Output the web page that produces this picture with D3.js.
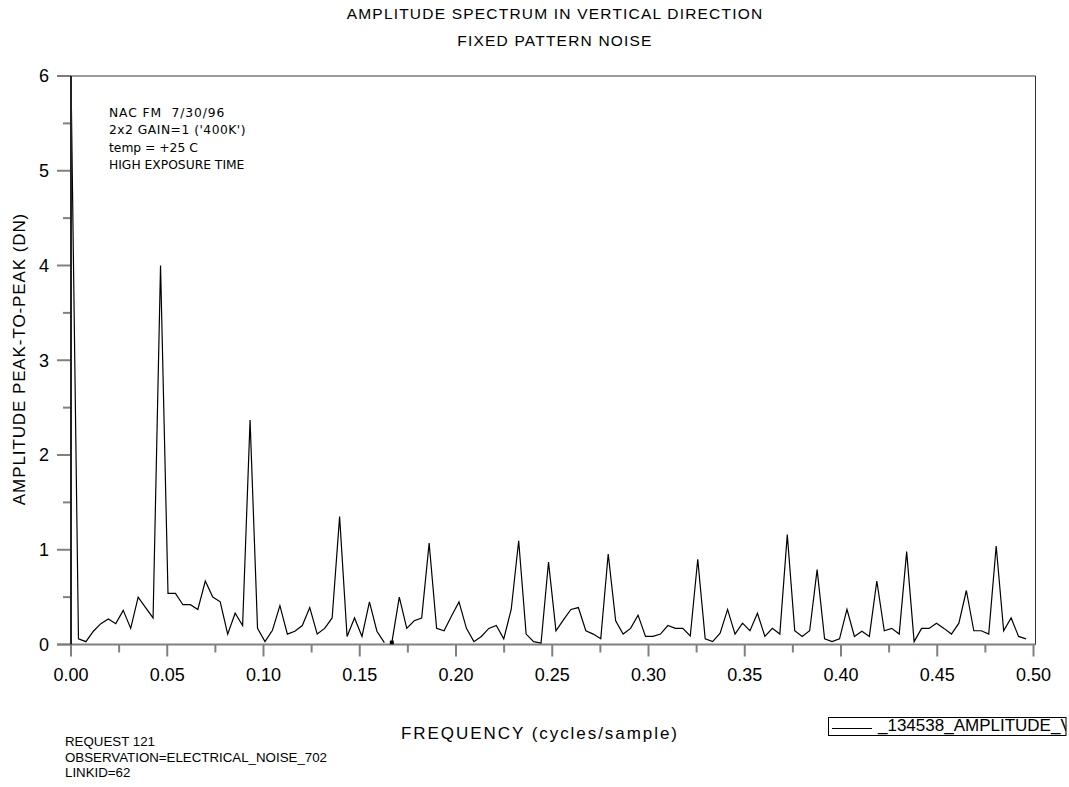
<!DOCTYPE html>
<html lang="en">
<head>
<meta charset="UTF-8">
<title>Amplitude Spectrum in Vertical Direction</title>
<script src="https://d3js.org/d3.v7.min.js"></script>
<style>
  body { margin: 0; background: #fff; }
  svg { display: block; font-family: "Liberation Sans", Arial, Helvetica, sans-serif; }
  .axis-tick { stroke: #808080; stroke-width: 2; }
  .tick-label { font-size: 18px; fill: #000; }
  .note { font-family: "DejaVu Sans", Verdana, sans-serif; font-size: 12.3px; fill: #000; white-space: pre; }
  .footer { font-size: 13.3px; fill: #000; }
  .title { font-size: 15.5px; letter-spacing: 1.2px; fill: #000; }
  .axis-title { font-size: 17px; fill: #000; }
</style>
</head>
<body>
<div id="chart"></div>
<script>
// amplitude per frequency bin (bin 0 = DC)
const amplitude = [
  6.00, 0.06, 0.03, 0.14, 0.22, 0.27, 0.22, 0.36, 0.17, 0.50,
  0.39, 0.28, 4.00, 0.54, 0.54, 0.42, 0.42, 0.37, 0.67, 0.50,
  0.45, 0.11, 0.33, 0.20, 2.37, 0.17, 0.03, 0.15, 0.41, 0.11,
  0.14, 0.20, 0.39, 0.11, 0.17, 0.28, 1.35, 0.085, 0.28, 0.085,
  0.45, 0.14, 0.02, 0.02, 0.50, 0.17, 0.25, 0.28, 1.07, 0.17,
  0.145, 0.30, 0.45, 0.17, 0.03, 0.085, 0.17, 0.20, 0.06, 0.37,
  1.095, 0.11, 0.03, 0.015, 0.87, 0.145, 0.26, 0.37, 0.39, 0.145,
  0.11, 0.06, 0.955, 0.25, 0.11, 0.17, 0.31, 0.085, 0.085, 0.11,
  0.20, 0.17, 0.17, 0.09, 0.90, 0.06, 0.03, 0.12, 0.37, 0.11,
  0.225, 0.145, 0.33, 0.085, 0.17, 0.11, 1.16, 0.145, 0.085, 0.145,
  0.79, 0.06, 0.03, 0.06, 0.37, 0.085, 0.14, 0.085, 0.67, 0.145,
  0.17, 0.11, 0.98, 0.03, 0.17, 0.17, 0.225, 0.17, 0.11, 0.225,
  0.57, 0.145, 0.145, 0.11, 1.04, 0.145, 0.28, 0.085, 0.06
];
const freqStep = 1 / 258;     // spacing between bins (cycles/sample)
const penLiftAt = 43;         // the plotted line is broken just before this bin

const xMajorTicks = [0, 0.05, 0.10, 0.15, 0.20, 0.25, 0.30, 0.35, 0.40, 0.45, 0.50];
const xMinorTicks = [0.025, 0.075, 0.125, 0.175, 0.225, 0.275, 0.325, 0.375, 0.425, 0.475];
const yMajorTicks = [0, 1, 2, 3, 4, 5, 6];
const yMinorTicks = [0.5, 1.5, 2.5, 3.5, 4.5, 5.5];

const titleLines = ["AMPLITUDE SPECTRUM IN VERTICAL DIRECTION", "FIXED PATTERN NOISE"];
const notes = ["NAC FM  7/30/96", "2x2 GAIN=1 ('400K')", "temp = +25 C", "HIGH EXPOSURE TIME"];
const footer = ["REQUEST 121", "OBSERVATION=ELECTRICAL_NOISE_702", "LINKID=62"];
const legendLabel = "_134538_AMPLITUDE_V";

const width = 1069, height = 787;
const plotLeft = 71, plotRight = 1033.5, plotTop = 76, plotBottom = 644.5, frameRight = 1035.5;

const svg = d3.select("#chart").append("svg")
    .attr("width", width)
    .attr("height", height);

svg.append("rect").attr("width", width).attr("height", height).attr("fill", "#fff");

const x = d3.scaleLinear().domain([0, 0.5]).range([plotLeft, plotRight]);
const y = d3.scaleLinear().domain([0, 6]).range([plotBottom, plotTop]);

// titles
svg.selectAll(".title").data(titleLines).enter().append("text")
    .attr("class", "title")
    .attr("x", 555)
    .attr("y", (d, i) => 19 + i * 27)
    .attr("text-anchor", "middle")
    .text(d => d);

// ticks
svg.append("g").selectAll("line").data(yMajorTicks).enter().append("line")
    .attr("class", "axis-tick")
    .attr("x1", plotLeft - 14).attr("x2", plotLeft)
    .attr("y1", d => y(d)).attr("y2", d => y(d));
svg.append("g").selectAll("line").data(yMinorTicks).enter().append("line")
    .attr("class", "axis-tick")
    .attr("x1", plotLeft - 8).attr("x2", plotLeft)
    .attr("y1", d => y(d)).attr("y2", d => y(d));
svg.append("g").selectAll("line").data(xMajorTicks).enter().append("line")
    .attr("class", "axis-tick")
    .attr("x1", d => x(d)).attr("x2", d => x(d))
    .attr("y1", plotBottom).attr("y2", plotBottom + 12);
svg.append("g").selectAll("line").data(xMinorTicks).enter().append("line")
    .attr("class", "axis-tick")
    .attr("x1", d => x(d)).attr("x2", d => x(d))
    .attr("y1", plotBottom).attr("y2", plotBottom + 8);

// tick labels
svg.append("g").selectAll("text").data(yMajorTicks).enter().append("text")
    .attr("class", "tick-label")
    .attr("x", 49)
    .attr("y", d => y(d))
    .attr("dy", "0.36em")
    .attr("text-anchor", "end")
    .text(d => d);
svg.append("g").selectAll("text").data(xMajorTicks).enter().append("text")
    .attr("class", "tick-label")
    .attr("x", d => x(d))
    .attr("y", 681)
    .attr("text-anchor", "middle")
    .text(d => d3.format(".2f")(d));

// frame
svg.append("line").attr("x1", plotLeft - 14).attr("x2", frameRight).attr("y1", plotTop).attr("y2", plotTop)
    .attr("stroke", "#7a7a7a").attr("stroke-width", 1.5);
svg.append("line").attr("x1", plotLeft - 14).attr("x2", frameRight).attr("y1", plotBottom).attr("y2", plotBottom)
    .attr("stroke", "#808080").attr("stroke-width", 2);
svg.append("line").attr("x1", frameRight).attr("x2", frameRight).attr("y1", plotTop).attr("y2", plotBottom)
    .attr("stroke", "#333").attr("stroke-width", 1);

// data
svg.append("clipPath").attr("id", "plot-clip")
  .append("rect").attr("x", plotLeft).attr("y", plotTop - 1)
  .attr("width", frameRight - plotLeft).attr("height", plotBottom - plotTop + 1);

const line = d3.line()
    .x(d => x(d.i * freqStep))
    .y(d => y(d.v));
const points = amplitude.map((v, i) => ({ i, v }));

const plot = svg.append("g").attr("clip-path", "url(#plot-clip)");
[points.slice(0, penLiftAt), points.slice(penLiftAt)].forEach(seg => {
    plot.append("path")
        .datum(seg)
        .attr("d", line)
        .attr("fill", "none")
        .attr("stroke", "#000")
        .attr("stroke-width", 1.2);
});
plot.append("rect")
    .attr("x", x(penLiftAt * freqStep) - 2)
    .attr("y", y(amplitude[penLiftAt]) - 2)
    .attr("width", 4).attr("height", 4)
    .attr("fill", "#000");

// left axis drawn over the data
svg.append("line").attr("x1", plotLeft).attr("x2", plotLeft).attr("y1", plotTop).attr("y2", plotBottom)
    .attr("stroke", "#222").attr("stroke-width", 2);

// axis titles
svg.append("text")
    .attr("class", "axis-title")
    .attr("x", 540)
    .attr("y", 739)
    .attr("text-anchor", "middle")
    .style("letter-spacing", "1.95px")
    .text("FREQUENCY (cycles/sample)");
svg.append("text")
    .attr("class", "axis-title")
    .attr("transform", "translate(25,359) rotate(-90)")
    .attr("text-anchor", "middle")
    .style("letter-spacing", "0.9px")
    .text("AMPLITUDE PEAK-TO-PEAK (DN)");

// notes
svg.append("g").selectAll("text").data(notes).enter().append("text")
    .attr("class", "note")
    .attr("x", 109)
    .attr("y", (d, i) => 117 + i * 17.4)
    .style("letter-spacing", (d, i) => i === 0 ? "0.9px" : (i === 1 ? "0.5px" : "0px"))
    .text(d => d);

svg.append("g").selectAll("text").data(footer).enter().append("text")
    .attr("class", "footer")
    .attr("x", 65)
    .attr("y", (d, i) => 746 + i * 15.7)
    .text(d => d);

// legend (label runs past the box and is cut at its right edge)
const lg = svg.append("g");
lg.append("clipPath").attr("id", "legend-clip")
  .append("rect").attr("x", 828).attr("y", 700).attr("width", 238).attr("height", 50);
lg.append("rect")
    .attr("x", 828.5).attr("y", 717.5).attr("width", 237.5).attr("height", 18)
    .attr("fill", "none").attr("stroke", "#000").attr("stroke-width", 1);
lg.append("line")
    .attr("x1", 832).attr("x2", 872).attr("y1", 728.5).attr("y2", 728.5)
    .attr("stroke", "#000").attr("stroke-width", 1);
lg.append("text")
    .attr("clip-path", "url(#legend-clip)")
    .attr("x", 878).attr("y", 731)
    .style("font-size", "17px")
    .text(legendLabel);
</script>
</body>
</html>
